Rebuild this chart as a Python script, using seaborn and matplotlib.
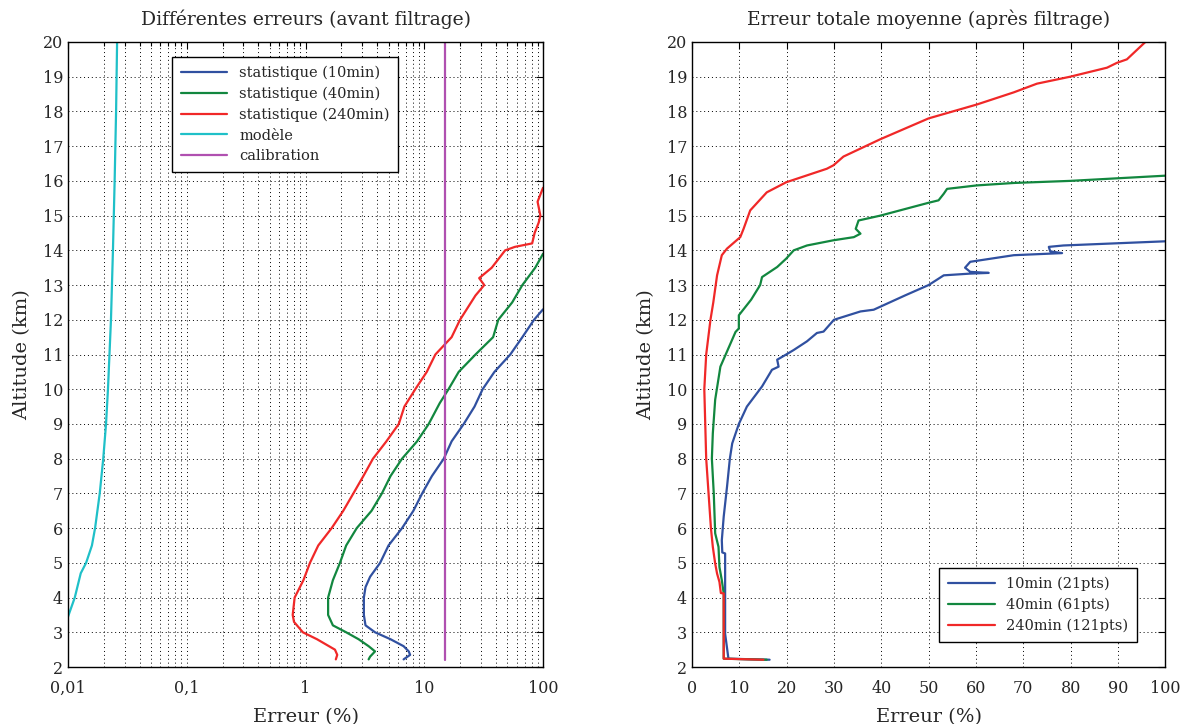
import matplotlib
matplotlib.use("Agg")
import matplotlib.pyplot as plt
import matplotlib.ticker as mticker
import seaborn as sns

# --- left panel: errors before filtering (altitude km, error %) ---
alt_stat10 = [2.22, 2.35, 2.45, 2.6, 2.8, 3.0, 3.2, 3.5, 4.0, 4.3, 4.6, 5.0, 5.5, 6.0, 6.5, 7.0,
              7.5, 8.0, 8.5, 9.0, 9.5, 10.0, 10.5, 11.0, 11.5, 12.0, 12.3]
err_stat10 = [6.7, 7.6, 7.4, 6.7, 5.2, 3.85, 3.2, 3.1, 3.1, 3.2, 3.5, 4.25, 5.0, 6.5, 8.1, 9.6,
              11.6, 14.6, 17.0, 21.5, 26.5, 31.0, 39.0, 53.0, 67.0, 84.0, 100.0]

alt_stat40 = [2.22, 2.3, 2.45, 2.6, 2.8, 3.0, 3.2, 3.5, 4.0, 4.5, 5.0, 5.5, 6.0, 6.5, 7.0, 7.5,
              8.0, 8.5, 9.0, 9.6, 10.0, 10.5, 11.0, 11.5, 12.0, 12.5, 13.0, 13.5, 13.9]
err_stat40 = [3.4, 3.5, 3.85, 3.4, 2.8, 2.2, 1.7, 1.55, 1.55, 1.7, 1.95, 2.2, 2.7, 3.6, 4.4, 5.2,
              6.5, 8.7, 10.9, 13.5, 16.0, 19.5, 27.0, 38.0, 42.0, 55.0, 67.0, 86.0, 100.0]

alt_stat240 = [2.22, 2.35, 2.5, 2.8, 3.0, 3.3, 3.5, 4.0, 4.5, 5.0, 5.5, 6.0, 6.5, 7.0, 7.5, 8.0,
               8.5, 9.0, 9.5, 10.0, 10.5, 11.0, 11.5, 12.0, 12.7, 13.0, 13.2, 13.5, 14.0, 14.1,
               14.2, 14.5, 14.8, 15.0, 15.4, 15.8]
err_stat240 = [1.8, 1.85, 1.77, 1.25, 0.95, 0.8, 0.78, 0.81, 0.96, 1.09, 1.28, 1.66, 2.08, 2.53,
               3.07, 3.7, 4.8, 6.1, 6.8, 8.4, 10.5, 12.4, 17.0, 20.0, 27.0, 32.0, 29.0, 37.0,
               48.0, 58.0, 81.0, 85.0, 92.0, 95.0, 90.0, 100.0]

alt_modele = [3.45, 4.0, 4.7, 5.0, 5.5, 6.0, 7.0, 8.0, 9.0, 10.0, 12.0, 14.0, 16.0, 18.0, 20.0]
err_modele = [0.0100, 0.0114, 0.0128, 0.0142, 0.0159, 0.0169, 0.0185, 0.0198, 0.0209, 0.0217,
              0.0230, 0.0239, 0.0247, 0.0254, 0.0259]

alt_calib = [2.2, 20.0]
err_calib = [15.0, 15.0]

# --- right panel: mean total error after filtering ---
alt_f10 = [2.21, 2.24, 2.96, 4.4, 5.27, 5.3, 5.65, 6.33, 7.19, 8.0, 8.44, 9.0, 9.5, 10.08, 10.56,
           10.65, 10.85, 11.0, 11.13, 11.38, 11.62, 11.66, 12.0, 12.24, 12.29, 12.7, 13.0, 13.28,
           13.33, 13.35, 13.38, 13.5, 13.67, 13.86, 13.92, 13.97, 14.1, 14.14, 14.26]
err_f10 = [16.4, 7.7, 7.0, 7.0, 7.0, 6.4, 6.3, 6.7, 7.4, 8.0, 8.5, 9.9, 11.6, 14.8, 16.9,
           18.3, 18.0, 19.9, 21.5, 24.3, 26.4, 27.8, 30.0, 35.6, 38.4, 45.0, 50.0, 53.2,
           58.8, 62.7, 58.8, 57.7, 58.8, 68.0, 78.2, 75.7, 75.4, 78.5, 100.0]

alt_f40 = [2.21, 2.24, 4.12, 4.5, 4.88, 5.46, 5.85, 7.0, 8.0, 8.73, 9.7, 10.65, 11.65, 11.75,
           12.13, 12.58, 13.0, 13.23, 13.52, 13.76, 14.0, 14.14, 14.29, 14.38, 14.48, 14.62,
           14.86, 15.0, 15.37, 15.44, 15.63, 15.77, 15.87, 15.94, 16.0, 16.15]
err_f40 = [15.8, 6.7, 6.7, 6.3, 5.8, 5.6, 4.9, 4.6, 4.2, 4.4, 4.9, 6.0, 9.2, 9.9,
           9.9, 12.5, 14.4, 14.8, 18.0, 19.9, 21.5, 24.3, 29.9, 34.2, 35.6, 34.6,
           35.2, 39.8, 50.0, 52.1, 53.2, 53.9, 60.2, 68.0, 79.9, 100.0]

alt_f240 = [2.21, 2.24, 4.12, 4.13, 4.45, 4.69, 4.98, 5.46, 6.0, 7.0, 8.0, 9.0, 10.0, 11.0, 12.0,
            12.5, 13.28, 13.86, 14.05, 14.38, 14.62, 15.15, 15.67, 15.96, 16.35, 16.45, 16.7,
            17.2, 17.8, 18.2, 18.55, 18.8, 19.0, 19.26, 19.4, 19.5, 20.0]
err_f240 = [15.1, 6.7, 6.7, 6.1, 5.8, 5.3, 4.9, 4.4, 4.0, 3.5, 3.0, 2.8, 2.6, 3.0, 3.9,
            4.5, 5.3, 6.3, 7.4, 10.2, 10.9, 12.3, 15.8, 19.9, 28.5, 29.9, 32.0,
            39.8, 50.0, 60.2, 68.0, 72.9, 79.9, 87.7, 89.8, 91.9, 95.8]

c_blue = "#3050a0"
c_green = "#12873f"
c_red = "#f02828"
c_cyan = "#1fc0c8"
c_purple = "#b050b0"

sns.set_style("white")
plt.rcParams["font.family"] = ["DejaVu Serif"]

fig = plt.figure(figsize=(11.89, 7.24), dpi=100)
ax1 = fig.add_axes([0.0572, 0.0787, 0.3995, 0.8633])
ax2 = fig.add_axes([0.582, 0.0787, 0.398, 0.8633])

lw = 1.6
grid_kw = dict(color="k", linestyle=(0, (1, 3)), linewidth=0.7)

# left
sns.lineplot(x=err_stat10, y=alt_stat10, sort=False, estimator=None, ax=ax1,
             color=c_blue, lw=lw, label="statistique (10min)")
sns.lineplot(x=err_stat40, y=alt_stat40, sort=False, estimator=None, ax=ax1,
             color=c_green, lw=lw, label="statistique (40min)")
sns.lineplot(x=err_stat240, y=alt_stat240, sort=False, estimator=None, ax=ax1,
             color=c_red, lw=lw, label="statistique (240min)")
sns.lineplot(x=err_modele, y=alt_modele, sort=False, estimator=None, ax=ax1,
             color=c_cyan, lw=lw, label="modèle")
sns.lineplot(x=err_calib, y=alt_calib, sort=False, estimator=None, ax=ax1,
             color=c_purple, lw=lw, label="calibration")

ax1.set_xscale("log")
ax1.set_xlim(0.01, 100)
ax1.set_ylim(2, 20)
ax1.xaxis.set_major_locator(mticker.FixedLocator([0.01, 0.1, 1, 10, 100]))
ax1.xaxis.set_major_formatter(mticker.FixedFormatter(["0,01", "0,1", "1", "10", "100"]))
ax1.xaxis.set_minor_locator(mticker.LogLocator(base=10, subs=range(2, 10)))
ax1.xaxis.set_minor_formatter(mticker.NullFormatter())
ax1.grid(True, which="both", axis="x", **grid_kw)
ax1.grid(True, which="major", axis="y", **grid_kw)
ax1.set_title("Différentes erreurs (avant filtrage)", fontsize=13.5, pad=12)
ax1.set_xlabel("Erreur (%)", fontsize=14, labelpad=8)
ax1.set_ylabel("Altitude (km)", fontsize=14, labelpad=8)
ax1.legend(loc="upper left", bbox_to_anchor=(0.219, 0.976), borderaxespad=0,
           fontsize=10.5, handlelength=3.2, fancybox=False, framealpha=1,
           edgecolor="k", borderpad=0.6, labelspacing=0.45)

# right
sns.lineplot(x=err_f10, y=alt_f10, sort=False, estimator=None, ax=ax2,
             color=c_blue, lw=lw, label="10min (21pts)")
sns.lineplot(x=err_f40, y=alt_f40, sort=False, estimator=None, ax=ax2,
             color=c_green, lw=lw, label="40min (61pts)")
sns.lineplot(x=err_f240, y=alt_f240, sort=False, estimator=None, ax=ax2,
             color=c_red, lw=lw, label="240min (121pts)")
ax2.set_xlim(0, 100)
ax2.set_ylim(2, 20)
ax2.set_xticks(range(0, 101, 10))
ax2.grid(True, which="major", **grid_kw)
ax2.set_title("Erreur totale moyenne (après filtrage)", fontsize=13.5, pad=12)
ax2.set_xlabel("Erreur (%)", fontsize=14, labelpad=8)
ax2.set_ylabel("Altitude (km)", fontsize=14, labelpad=8)
ax2.legend(loc="lower right", bbox_to_anchor=(0.941, 0.04), borderaxespad=0,
           fontsize=10.5, handlelength=3.2, fancybox=False, framealpha=1,
           edgecolor="k", borderpad=0.6, labelspacing=0.45)

for ax in (ax1, ax2):
    ax.set_yticks(range(2, 21))
    ax.tick_params(which="both", direction="in", top=True, right=True,
                   labelsize=11.5, length=5, width=0.8, color="k")
    ax.tick_params(which="minor", length=3)
    ax.tick_params(axis="x", pad=9)
    for s in ax.spines.values():
        s.set_color("k")
        s.set_linewidth(1.0)
    ax.set_axisbelow(True)

fig.savefig("out.png", dpi=100)
